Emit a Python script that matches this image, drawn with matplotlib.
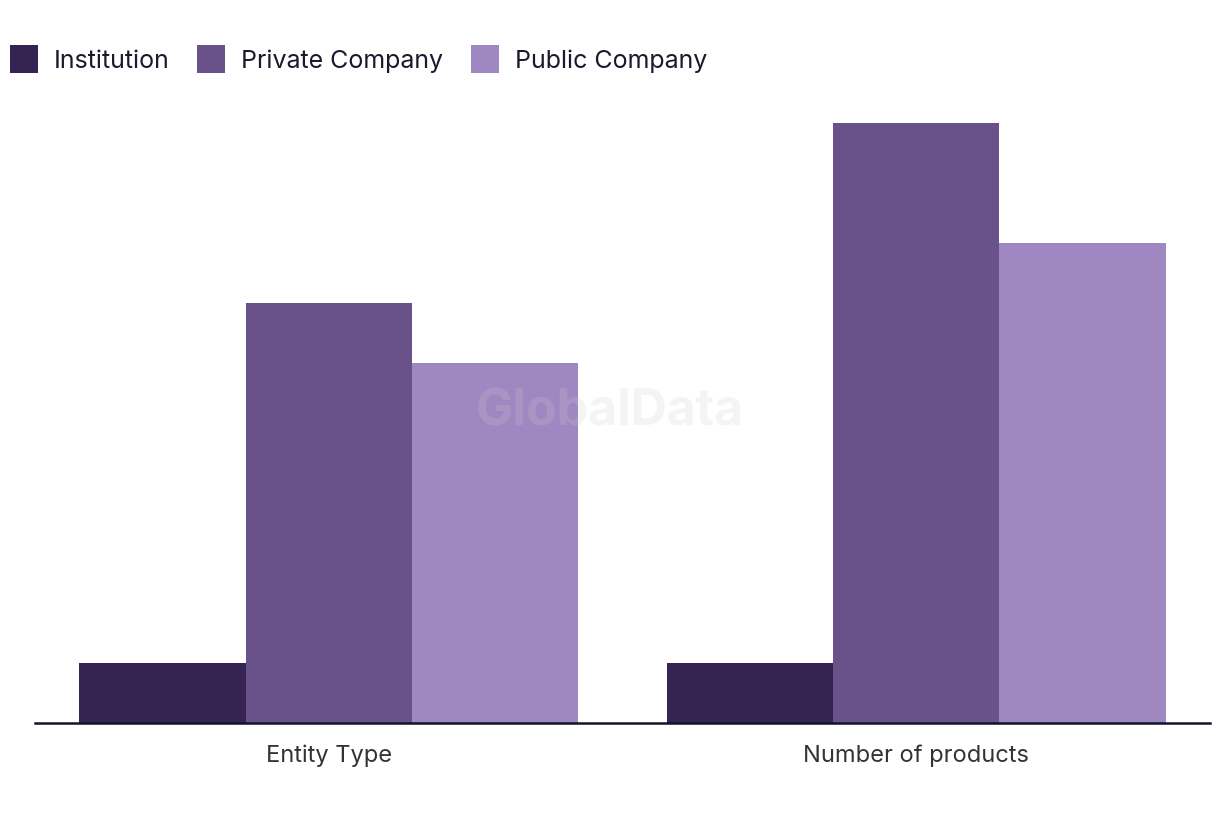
import matplotlib
matplotlib.use("Agg")
import matplotlib.pyplot as plt
import numpy as np
from matplotlib.patches import Patch

categories = ["Entity Type", "Number of products"]
series_names = ["Institution", "Private Company", "Public Company"]
institution = [1, 1]
private_company = [7, 10]
public_company = [6, 8]
colors = ["#352452", "#685289", "#9f88c1"]

plt.rcParams['font.family'] = ['Inter', 'DejaVu Sans']

fig = plt.figure(figsize=(12.2, 8.2), dpi=100)
ax = fig.add_axes([35/1220, 96/820, 1175/1220, 630/820])

x = np.arange(len(categories))
w = 0.2833
for i, (vals, c) in enumerate(zip([institution, private_company, public_company], colors)):
    ax.bar(x + (i - 1) * w, vals, width=w, color=c, linewidth=0)

for s in ["top", "right", "left"]:
    ax.spines[s].set_visible(False)
ax.spines["bottom"].set_color("#12122a")
ax.spines["bottom"].set_linewidth(1.8)

ax.set_xlim(-0.5, 1.5)
ax.set_ylim(0, 10.5)
ax.set_yticks([])
ax.set_xticks(x)
ax.set_xticklabels(categories, fontsize=17, color="#333333")
ax.tick_params(axis='x', length=0, pad=15)

fig.text(610/1220, 1 - 412/820, "GlobalData", fontsize=36, fontweight="bold",
         color="#cccccc", alpha=0.2, ha="center", va="center", zorder=10)

handles = [Patch(facecolor=c, edgecolor="none") for c in colors]
fig.legend(handles, series_names, loc="upper left", bbox_to_anchor=(10/1220, 1 - 46/820),
           ncol=3, frameon=False, fontsize=18, handlelength=1.12, handleheight=1.32,
           handletextpad=0.64, columnspacing=1.1, borderaxespad=0, borderpad=0,
           labelcolor="#1a1a2e")

fig.savefig("out.png", dpi=100)
